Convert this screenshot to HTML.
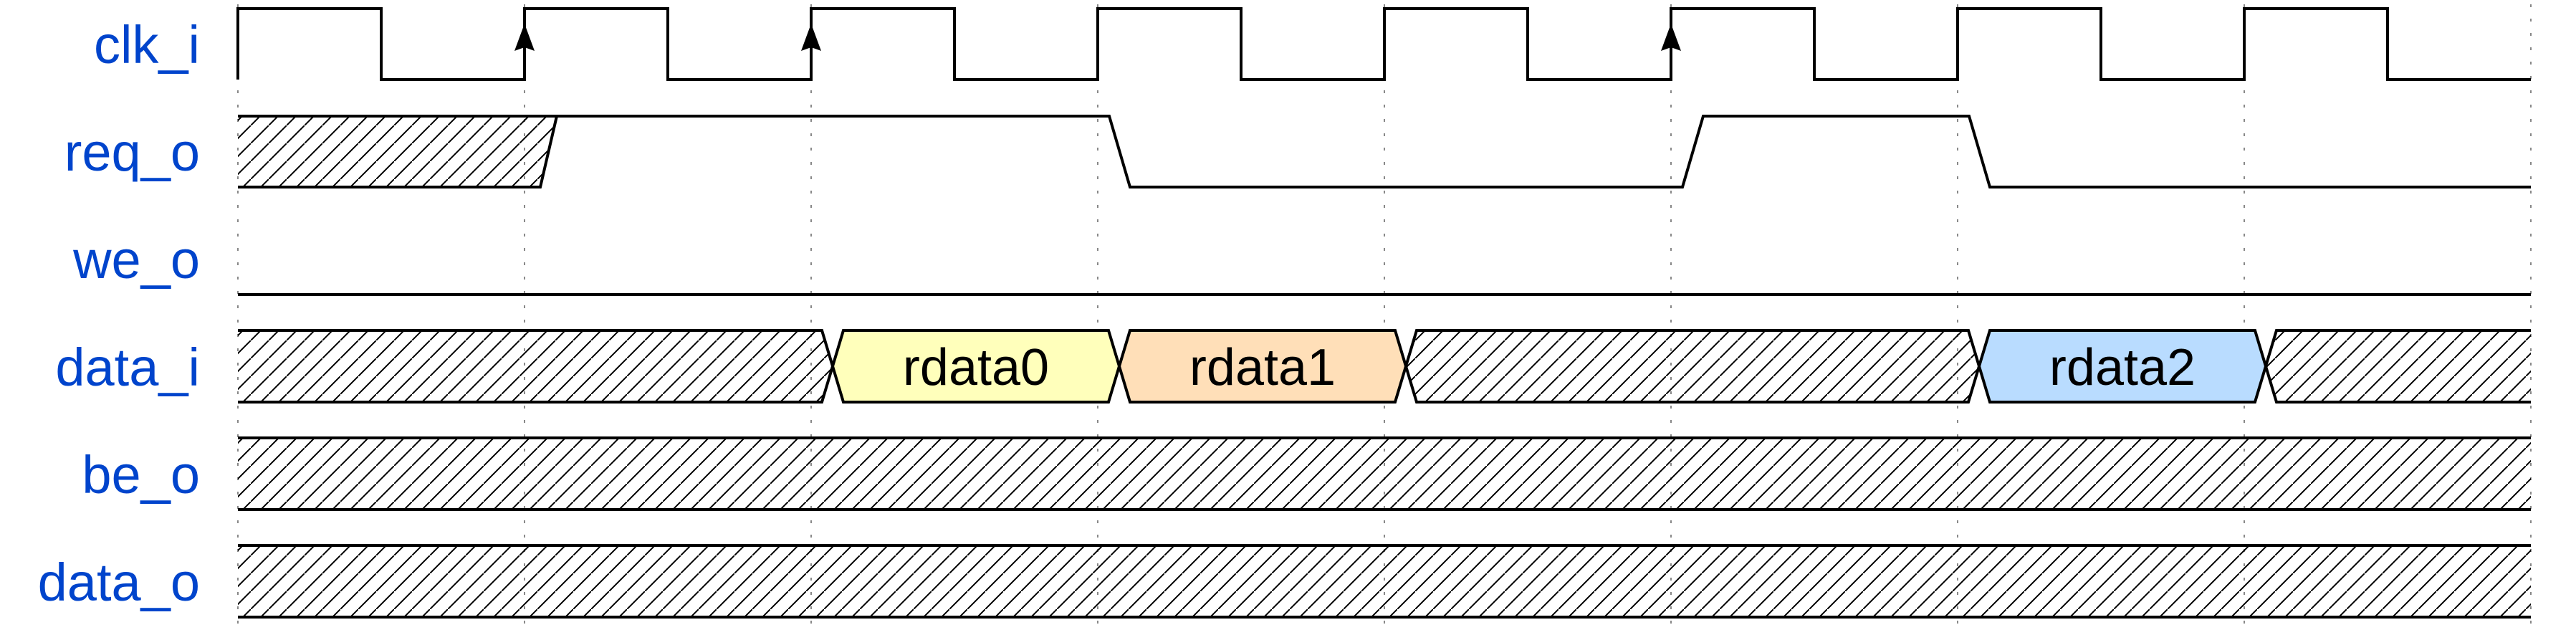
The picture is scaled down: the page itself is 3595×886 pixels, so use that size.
<!DOCTYPE html>
<html><head><meta charset="utf-8"><style>
html,body{margin:0;padding:0;background:#fff;}
svg{display:block;}
.lbl{font-family:"Liberation Sans",sans-serif;font-size:74px;fill:#0044cc;text-anchor:end;}
.dt{font-family:"Liberation Sans",sans-serif;font-size:72px;fill:#000;text-anchor:middle;}
.w{fill:none;stroke:#000;stroke-width:4;}
</style></head><body>
<svg width="3595" height="886" viewBox="0 0 3595 886" xmlns="http://www.w3.org/2000/svg">
<defs>
<pattern id="h" patternUnits="userSpaceOnUse" width="25" height="25">
<line x1="-2" y1="27" x2="27" y2="-2" stroke="#000" stroke-width="2"/>
</pattern>
</defs>
<g stroke="#888" stroke-width="2" stroke-dasharray="4,16">
<line x1="332" y1="6" x2="332" y2="886"/>
<line x1="732" y1="6" x2="732" y2="886"/>
<line x1="1132" y1="6" x2="1132" y2="886"/>
<line x1="1532" y1="6" x2="1532" y2="886"/>
<line x1="1932" y1="6" x2="1932" y2="886"/>
<line x1="2332" y1="6" x2="2332" y2="886"/>
<line x1="2732" y1="6" x2="2732" y2="886"/>
<line x1="3132" y1="6" x2="3132" y2="886"/>
<line x1="3532" y1="6" x2="3532" y2="886"/>
</g>
<text class="lbl" x="279" y="88">clk_i</text>
<text class="lbl" x="279" y="238">req_o</text>
<text class="lbl" x="279" y="388">we_o</text>
<text class="lbl" x="279" y="538">data_i</text>
<text class="lbl" x="279" y="688">be_o</text>
<text class="lbl" x="279" y="838">data_o</text>
<path class="w" d="M332 111 V12 H532 V111 H732 V12 H932 V111 H1132 V12 H1332 V111 H1532 V12 H1732 V111 H1932 V12 H2132 V111 H2332 V12 H2532 V111 H2732 V12 H2932 V111 H3132 V12 H3332 V111 H3532"/>
<g fill="#000">
<path d="M732 33 L746 71 L732 66 L718 71 Z"/>
<path d="M1132 33 L1146 71 L1132 66 L1118 71 Z"/>
<path d="M2332 33 L2346 71 L2332 66 L2318 71 Z"/>
</g>
<path d="M332 162 H777 L754 261 H332 Z" fill="url(#h)"/>
<path class="w" d="M332 162 H777 L754 261 H332"/>
<path class="w" d="M777 162 H1548 L1577 261 H2348 L2377 162 H2748 L2777 261 H3532"/>
<line class="w" x1="332" y1="411" x2="3532" y2="411"/>
<path d="M332 461 H1147 L1162 511 L1147 561 H332 Z" fill="url(#h)"/>
<path d="M1162 511 L1177 461 H1547 L1562 511 L1547 561 H1177 Z" fill="#ffffbb"/>
<path d="M1562 511 L1577 461 H1947 L1962 511 L1947 561 H1577 Z" fill="#ffdfb8"/>
<path d="M1962 511 L1977 461 H2747 L2762 511 L2747 561 H1977 Z" fill="url(#h)"/>
<path d="M2762 511 L2777 461 H3147 L3162 511 L3147 561 H2777 Z" fill="#b9dcff"/>
<path d="M3162 511 L3177 461 H3532 V561 H3177 Z" fill="url(#h)"/>
<path class="w" d="M332 461 H1147 L1177 561 H1547 L1577 461 H1947 L1977 561 H2747 L2777 461 H3147 L3177 561 H3532"/>
<path class="w" d="M332 561 H1147 L1177 461 H1547 L1577 561 H1947 L1977 461 H2747 L2777 561 H3147 L3177 461 H3532"/>
<text class="dt" x="1362" y="537">rdata0</text>
<text class="dt" x="1762" y="537">rdata1</text>
<text class="dt" x="2962" y="537">rdata2</text>
<rect x="332" y="611" width="3200" height="100" fill="url(#h)"/>
<line class="w" x1="332" y1="611" x2="3532" y2="611"/>
<line class="w" x1="332" y1="711" x2="3532" y2="711"/>
<rect x="332" y="761" width="3200" height="100" fill="url(#h)"/>
<line class="w" x1="332" y1="761" x2="3532" y2="761"/>
<line class="w" x1="332" y1="861" x2="3532" y2="861"/>
</svg>
</body></html>
